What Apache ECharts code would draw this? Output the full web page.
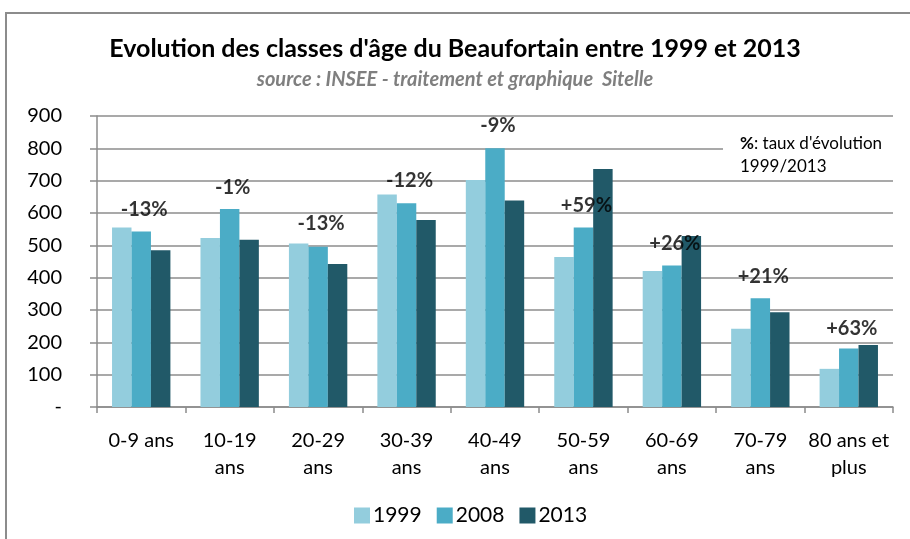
<!DOCTYPE html>
<html>
<head>
<meta charset="utf-8">
<script src="https://cdn.jsdelivr.net/npm/echarts@6/dist/echarts.min.js"></script>
<style>
  html, body { margin: 0; padding: 0; background: #fff; }
  #chart { width: 910px; height: 539px; }
</style>
</head>
<body>
<div id="chart"></div>
<script>
// classes d'age
var categories = ['0-9 ans', '10-19\nans', '20-29\nans', '30-39\nans', '40-49\nans', '50-59\nans', '60-69\nans', '70-79\nans', '80 ans et\nplus'];
var years = ['1999', '2008', '2013'];
var v1999 = [555, 523, 506, 657, 702, 464, 421, 242, 118];
var v2008 = [543, 612, 496, 630, 800, 555, 438, 336, 181];
var v2013 = [485, 517, 442, 578, 639, 736, 529, 293, 192];
// taux d'evolution 1999/2013 et hauteur (en unites de l'axe) ou le texte est pose
var evolLabels = ['-13%', '-1%', '-13%', '-12%', '-9%', '+59%', '+26%', '+21%', '+63%'];
var evolLabelY = [612, 680, 566, 699, 869, 622, 507, 403, 244];
var yTicks = [0, 100, 200, 300, 400, 500, 600, 700, 800, 900];

var colors = ['#93CDDD', '#4BACC6', '#215968'];
var font = 'Lato';
var gridColor = '#8c8c8c';

var chart = echarts.init(document.getElementById('chart'), null, { renderer: 'canvas' });

function barSerie(name, data, color) {
  return {
    name: name,
    type: 'bar',
    data: data,
    barGap: '0%',
    barCategoryGap: '34%',
    itemStyle: { color: color },
    z: 2
  };
}

var option = {
  animation: false,
  textStyle: { fontFamily: font },
  title: [{
    text: "Evolution des classes d'âge du Beaufortain entre 1999 et 2013",
    left: 'center',
    top: 31,
    textStyle: { fontSize: 25, fontWeight: 'bold', color: '#000', fontFamily: font }
  }, {
    text: 'source : INSEE - traitement et graphique  Sitelle',
    left: 'center',
    top: 65,
    textStyle: { fontSize: 20, fontWeight: 'bold', fontStyle: 'italic', color: '#7f7f7f', fontFamily: font }
  }],
  legend: {
    data: years,
    bottom: 8,
    left: 349,
    itemWidth: 16,
    itemHeight: 16,
    itemGap: 15,
    icon: 'rect',
    textStyle: { fontSize: 21, color: '#000', fontFamily: font, padding: [0, 0, 0, -2] }
  },
  grid: { left: 97, right: 17, top: 116, bottom: 132 },
  xAxis: {
    type: 'category',
    data: categories,
    axisLine: { lineStyle: { color: gridColor, width: 1.5 } },
    axisTick: { show: true, length: 6, lineStyle: { color: gridColor, width: 1.5 } },
    axisLabel: { color: '#000', fontSize: 20, lineHeight: 27, margin: 20, interval: 0, fontFamily: font }
  },
  yAxis: {
    type: 'value',
    min: yTicks[0],
    max: yTicks[yTicks.length - 1],
    interval: 100,
    axisLine: { show: true, lineStyle: { color: gridColor, width: 1.5 } },
    axisTick: { show: true, length: 7, lineStyle: { color: gridColor, width: 1.5 } },
    splitLine: { lineStyle: { color: gridColor, width: 1.5 } },
    axisLabel: {
      color: '#000', fontSize: 20, margin: 35, fontFamily: font,
      formatter: function (v) { return v === 0 ? '-' : String(v); }
    }
  },
  graphic: [
    // cadre du graphique
    { type: 'rect', shape: { x: 6, y: 13, width: 1000, height: 700 }, style: { fill: null, stroke: '#8c8c8c', lineWidth: 2 }, z: 0 },
    // zone de texte
    { type: 'rect', shape: { x: 723, y: 128, width: 172, height: 48 }, style: { fill: '#fff' }, z: 10 },
    {
      type: 'text', left: 740, top: 132, z: 11,
      style: {
        text: '{b|%}: taux d\'évolution\n1999/2013',
        font: '17px Lato',
        fill: '#000',
        lineHeight: 23,
        rich: { b: { fontWeight: 'bold', fontSize: 17, fontFamily: font } }
      }
    }
  ],
  series: [
    barSerie(years[0], v1999, colors[0]),
    barSerie(years[1], v2008, colors[1]),
    barSerie(years[2], v2013, colors[2]),
    {
      name: 'evolution',
      type: 'scatter',
      symbolSize: 0,
      silent: true,
      z: 5,
      data: evolLabelY.map(function (y, i) { return [i, y]; }),
      label: {
        show: true,
        position: 'inside',
        offset: [3, 0],
        color: '#000',
        fontSize: 20,
        fontWeight: 'bold',
        fontFamily: font,
        formatter: function (p) { return evolLabels[p.dataIndex]; }
      }
    }
  ]
};

chart.setOption(option);
</script>
</body>
</html>
